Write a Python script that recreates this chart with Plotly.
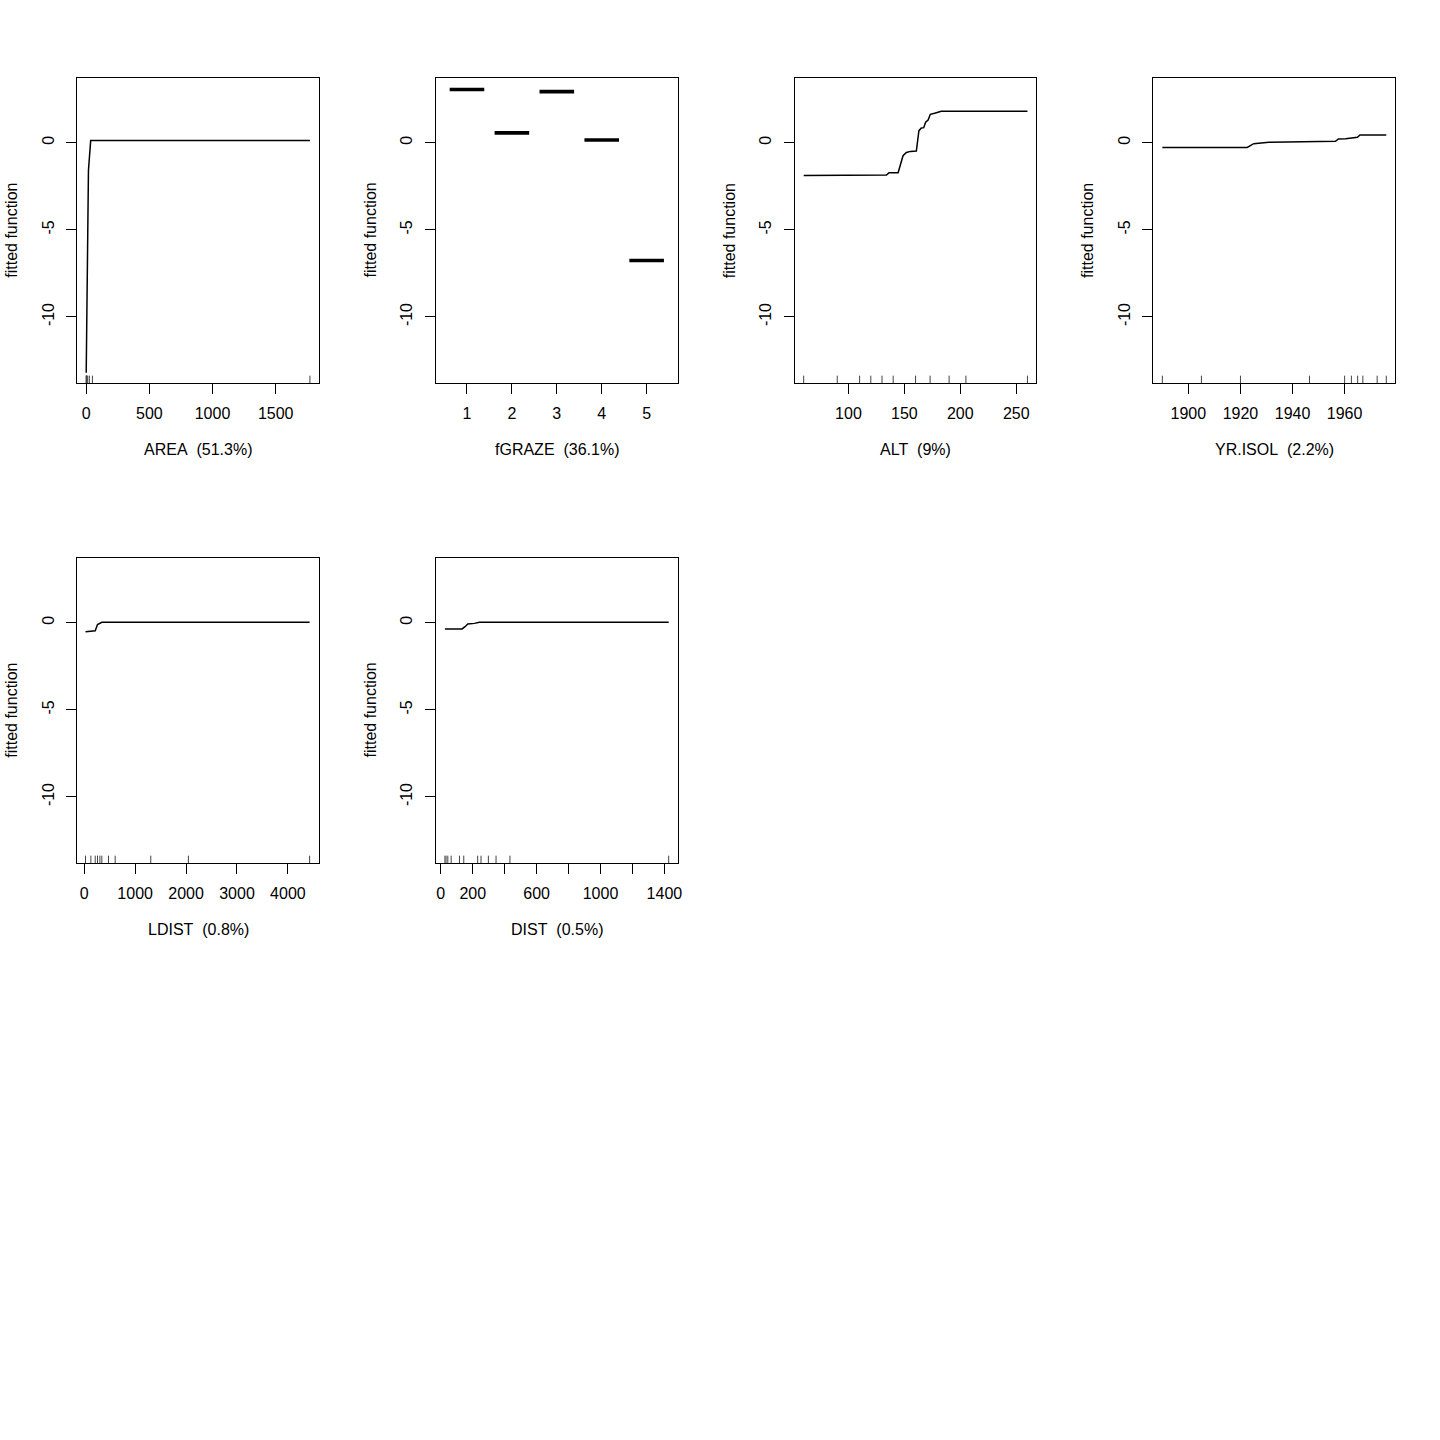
import plotly.graph_objects as go

# ---------------- data ----------------
area_x = [0.1, 17.8, 35.5, 1771]
area_y = [-13.2, -1.6, 0.12, 0.12]
area_rug = [0.1, 1, 2, 3, 5, 12, 25, 49, 1771]

graze_levels = [1, 2, 3, 4, 5]
graze_y = [3.05, 0.56, 2.93, 0.15, -6.76]

alt_x = [60, 115, 134, 136.3, 144.4, 148.8, 151.8, 155.4, 160.7, 163, 165.2, 167.3, 169, 171.2, 173.2, 177, 180, 183, 260]
alt_y = [-1.89, -1.88, -1.86, -1.72, -1.72, -0.75, -0.56, -0.50, -0.48, 0.69, 0.84, 0.86, 1.17, 1.30, 1.63, 1.69, 1.76, 1.80, 1.80]
alt_rug = [60, 90, 110, 120, 130, 140, 160, 173, 190, 205, 260]

yr_x = [1890, 1922.6, 1923.8, 1925.1, 1930.9, 1946.9, 1956.5, 1957.6, 1960.4, 1964.9, 1965.9, 1976]
yr_y = [-0.27, -0.27, -0.17, -0.06, 0.02, 0.08, 0.08, 0.21, 0.23, 0.31, 0.44, 0.44]
yr_rug = [1890, 1905, 1920, 1946.5, 1960, 1962.6, 1965, 1967, 1972.5, 1976]

ldist_x = [26, 150, 216, 261, 346, 915, 4426]
ldist_y = [-0.52, -0.50, -0.46, -0.11, 0.02, 0.03, 0.03]
ldist_rug = [26, 131, 216, 261, 308, 346, 477, 608, 1307, 2045, 4426]

dist_x = [26, 133, 152, 169, 211, 242, 1427]
dist_y = [-0.36, -0.36, -0.23, -0.08, -0.04, 0.02, 0.02]
dist_rug = [26, 33, 44, 65, 117, 144, 231, 252, 298, 346, 433, 1427]

titles = ["AREA\u00a0\u00a0(51.3%)", "fGRAZE\u00a0\u00a0(36.1%)", "ALT\u00a0\u00a0(9%)",
          "YR.ISOL\u00a0\u00a0(2.2%)", "LDIST\u00a0\u00a0(0.8%)", "DIST\u00a0\u00a0(0.5%)"]

x_ranges = [[-71, 1842], [0.31, 5.69], [52, 268], [1886.6, 1979.4], [-137, 4608], [-30, 1483]]
x_tickvals = [[0, 500, 1000, 1500], [1, 2, 3, 4, 5], [100, 150, 200, 250],
              [1900, 1920, 1940, 1960], [0, 1000, 2000, 3000, 4000],
              [0, 200, 400, 600, 800, 1000, 1200, 1400]]
x_ticktext = [["0", "500", "1000", "1500"], ["1", "2", "3", "4", "5"],
              ["100", "150", "200", "250"], ["1900", "1920", "1940", "1960"],
              ["0", "1000", "2000", "3000", "4000"],
              ["0", "200", "", "600", "", "1000", "", "1400"]]
y_tickvals = [-10, -5, 0]
y_range = [-13.79, 3.74]

# ---------------- layout geometry (pixels) ----------------
W = H = 1440
cols = [(77.5, 320), (437.5, 680), (797.5, 1040), (1157.5, 1400)]
rows = [(77.5, 383), (557.5, 863)]
panels = [(0, 0), (0, 1), (0, 2), (0, 3), (1, 0), (1, 1)]


def px_x(v):
    return v / W


def px_y(v):
    return 1 - v / H


FONT = dict(family="Liberation Sans, Arial, sans-serif", size=16, color="black")

fig = go.Figure()
line_style = dict(color="black", width=1.5)

fig.add_trace(go.Scatter(x=area_x, y=area_y, mode="lines", line=line_style, xaxis="x", yaxis="y"))

gx, gy = [], []
for lv, v in zip(graze_levels, graze_y):
    gx += [lv - 0.385, lv + 0.385, None]
    gy += [v, v, None]
fig.add_trace(go.Scatter(x=gx, y=gy, mode="lines", line=dict(color="black", width=3.6),
                         xaxis="x2", yaxis="y2"))

fig.add_trace(go.Scatter(x=alt_x, y=alt_y, mode="lines", line=line_style, xaxis="x3", yaxis="y3"))
fig.add_trace(go.Scatter(x=yr_x, y=yr_y, mode="lines", line=line_style, xaxis="x4", yaxis="y4"))
fig.add_trace(go.Scatter(x=ldist_x, y=ldist_y, mode="lines", line=line_style, xaxis="x5", yaxis="y5"))
fig.add_trace(go.Scatter(x=dist_x, y=dist_y, mode="lines", line=line_style, xaxis="x6", yaxis="y6"))

rugs = {1: area_rug, 3: alt_rug, 4: yr_rug, 5: ldist_rug, 6: dist_rug}
shapes = []
for k, vals in rugs.items():
    xr = "x" if k == 1 else f"x{k}"
    yr = "y domain" if k == 1 else f"y{k} domain"
    for v in vals:
        shapes.append(dict(type="line", xref=xr, yref=yr, x0=v, x1=v, y0=0, y1=0.024,
                           line=dict(color="#444444", width=1)))

annotations = []
layout = dict(width=W, height=H, margin=dict(l=0, r=0, t=0, b=0),
              paper_bgcolor="white", plot_bgcolor="white", showlegend=False,
              font=FONT, shapes=shapes)

for i, (r, c) in enumerate(panels):
    k = i + 1
    x0, x1 = cols[c]
    y0, y1 = rows[r]
    xd = [px_x(x0), px_x(x1)]
    yd = [px_y(y1), px_y(y0)]
    xn = "xaxis" if k == 1 else f"xaxis{k}"
    yn = "yaxis" if k == 1 else f"yaxis{k}"
    anchor_y = "y" if k == 1 else f"y{k}"
    anchor_x = "x" if k == 1 else f"x{k}"
    common = dict(showline=True, linecolor="black", linewidth=1.2, mirror=True,
                  ticks="outside", ticklen=10, tickwidth=1.2, tickcolor="black",
                  showgrid=False, zeroline=False, tickfont=FONT, fixedrange=True)
    layout[xn] = dict(domain=xd, anchor=anchor_y, range=x_ranges[i],
                      tickmode="array", tickvals=x_tickvals[i], ticktext=x_ticktext[i],
                      ticklabelstandoff=6, **common)
    layout[yn] = dict(domain=yd, anchor=anchor_x, range=y_range,
                      tickmode="array", tickvals=y_tickvals,
                      ticktext=[str(v) for v in y_tickvals],
                      tickangle=-90, ticklabelstandoff=6, **common)
    title_y = 449 if r == 0 else 929
    annotations.append(dict(text=titles[i], xref="paper", yref="paper",
                            x=px_x((x0 + x1) / 2), y=px_y(title_y), showarrow=False,
                            xanchor="center", yanchor="middle", font=FONT))
    annotations.append(dict(text="fitted function", xref="paper", yref="paper",
                            x=px_x(x0 - 66), y=px_y((y0 + y1) / 2), showarrow=False,
                            textangle=-90, xanchor="center", yanchor="middle", font=FONT))

layout["annotations"] = annotations
fig.update_layout(**layout)
fig.write_html("out.html", config={"displayModeBar": False},
               post_script="document.body.style.margin='0';document.body.style.overflow='hidden';")
